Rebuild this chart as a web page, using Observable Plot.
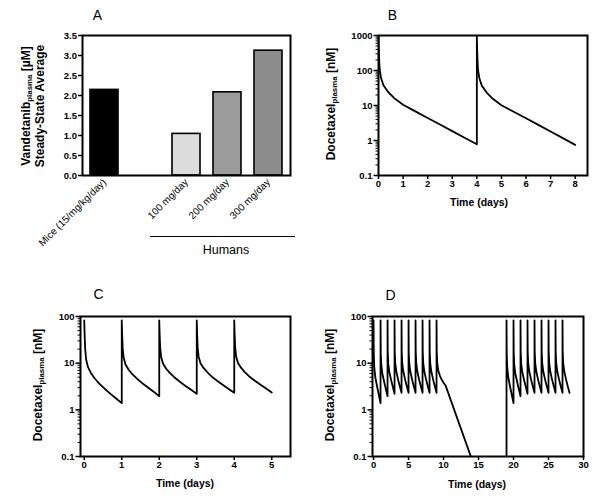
<!DOCTYPE html>
<html><head><meta charset="utf-8">
<script src="https://cdn.jsdelivr.net/npm/d3@7"></script>
<script src="https://cdn.jsdelivr.net/npm/@observablehq/plot@0.6"></script>
<style>
body{margin:0;background:#fff;}
#root{position:relative;width:600px;height:504px;background:#fff;font-family:"Liberation Sans",Arial,sans-serif;overflow:hidden;color:#000}
#root svg{overflow:visible}
.lab{position:absolute;white-space:nowrap;line-height:1;color:#000}
.ylab{transform:translate(-50%,-50%) rotate(-90deg);font-weight:bold;font-size:12px}
.xlab{transform:translate(-50%,-50%);font-weight:bold;font-size:10.5px}
.ttl{transform:translate(-50%,-50%);font-size:14px}
.sub{font-size:0.66em;position:relative;top:0.3em}
#pa [aria-label="x-axis tick label"]{font-weight:normal}
</style></head><body><div id="root"></div>
<script>
// ---------- Panel A data ----------
const aCategories = ["Mice (15/mg/kg/day)", " ", "100 mg/day", "200 mg/day", "300 mg/day"];
const aBarCategories = ["Mice (15/mg/kg/day)", "100 mg/day", "200 mg/day", "300 mg/day"];
const aValues = [2.14, 1.04, 2.08, 3.12];
const aYTicks = [0, 0.5, 1, 1.5, 2, 2.5, 3, 3.5];

// ---------- Log axis ticks ----------
const logMajor = [0.1, 1, 10, 100, 1000];
const logMinor = [0.2,0.3,0.4,0.5,0.6,0.7,0.8,0.9, 2,3,4,5,6,7,8,9, 20,30,40,50,60,70,80,90, 200,300,400,500,600,700,800,900];
const bXTicks = [0,1,2,3,4,5,6,7,8];
const cXTicks = [0,1,2,3,4,5];
const dXTicks = [0,5,10,15,20,25,30];

// ---------- Panel B: [time (days), concentration nM] ----------
const bCurve = [
  [0,1000],[0.01,450],[0.03,180],[0.05,105],[0.1,62],[0.2,38],[0.4,24],[0.65,16],[1,10.5],[1.5,6.8],[2,4.4],[2.5,2.85],[3,1.85],[3.5,1.2],[4,0.78],
  [4,950],[4.01,440],[4.03,175],[4.05,102],[4.1,61],[4.2,37],[4.4,23.5],[4.65,15.5],[5,10.2],[5.5,6.6],[6,4.3],[6.5,2.8],[7,1.8],[7.5,1.17],[8,0.75]
];

// ---------- Panel C ----------
const cCurve = [
  [0,82],[0.01,40],[0.025,20],[0.05,12],[0.1,8.2],[0.18,6.1],[0.28,4.7],[0.4,3.65],[0.55,2.8],[0.7,2.2],[0.85,1.75],[1,1.39],
  [1,82],[1.01,41],[1.025,21],[1.05,13.2],[1.1,9.4],[1.18,7.3],[1.28,5.8],[1.4,4.7],[1.55,3.7],[1.7,3.0],[1.85,2.45],[2,1.96],
  [2,82],[2.01,41],[2.025,21.5],[2.05,13.6],[2.1,9.8],[2.18,7.7],[2.28,6.2],[2.4,5.0],[2.55,4.0],[2.7,3.25],[2.85,2.7],[3,2.2],
  [3,82],[3.01,41],[3.025,21.5],[3.05,13.8],[3.1,10],[3.18,7.9],[3.28,6.4],[3.4,5.15],[3.55,4.15],[3.7,3.4],[3.85,2.8],[4,2.32],
  [4,82],[4.01,41],[4.025,21.5],[4.05,13.9],[4.1,10.1],[4.18,8.0],[4.28,6.45],[4.4,5.2],[4.55,4.2],[4.7,3.45],[4.85,2.85],[5,2.36]
];

// ---------- Panel D ----------
const dPhase1 = [
  [0,82],[0.03,16],[0.1,8.2],[0.25,5],[0.5,3.2],[0.75,2.1],[1,1.39],
  [1,82],[1.03,17],[1.1,9.4],[1.25,6.1],[1.5,4.1],[1.75,2.8],[2,1.96],
  [2,82],[2.03,17.5],[2.1,9.8],[2.25,6.5],[2.5,4.4],[2.75,3.1],[3,2.2],
  [3,82],[3.03,17.5],[3.1,10],[3.25,6.7],[3.5,4.5],[3.75,3.2],[4,2.32],
  [4,82],[4.03,17.5],[4.1,10],[4.25,6.7],[4.5,4.5],[4.75,3.2],[5,2.32],
  [5,82],[5.03,17.5],[5.1,10],[5.25,6.7],[5.5,4.5],[5.75,3.2],[6,2.32],
  [6,82],[6.03,17.5],[6.1,10],[6.25,6.7],[6.5,4.5],[6.75,3.2],[7,2.32],
  [7,82],[7.03,17.5],[7.1,10],[7.25,6.7],[7.5,4.5],[7.75,3.2],[8,2.32],
  [8,82],[8.03,17.5],[8.1,10],[8.25,6.7],[8.5,4.5],[8.75,3.2],[9,2.32],
  [9,82],[9.03,17.5],[9.1,10],[9.25,7],[9.5,5.3],[9.75,4.4],[10,3.8],[10.3,3.3],[13.9,0.1]
];
const dPhase2 = [
  [19,0.1],
  [19,82],[19.03,16],[19.1,8.2],[19.25,5],[19.5,3.2],[19.75,2.1],[20,1.39],
  [20,82],[20.03,17],[20.1,9.4],[20.25,6.1],[20.5,4.1],[20.75,2.8],[21,1.96],
  [21,82],[21.03,17.5],[21.1,9.8],[21.25,6.5],[21.5,4.4],[21.75,3.1],[22,2.2],
  [22,82],[22.03,17.5],[22.1,10],[22.25,6.7],[22.5,4.5],[22.75,3.2],[23,2.32],
  [23,82],[23.03,17.5],[23.1,10],[23.25,6.7],[23.5,4.5],[23.75,3.2],[24,2.32],
  [24,82],[24.03,17.5],[24.1,10],[24.25,6.7],[24.5,4.5],[24.75,3.2],[25,2.32],
  [25,82],[25.03,17.5],[25.1,10],[25.25,6.7],[25.5,4.5],[25.75,3.2],[26,2.32],
  [26,82],[26.03,17.5],[26.1,10],[26.25,6.7],[26.5,4.5],[26.75,3.2],[27,2.32],
  [27,82],[27.03,17.5],[27.1,10],[27.25,6.7],[27.5,4.5],[27.75,3.2],[28,2.32]
];

// ---------- rendering ----------
const root = document.getElementById("root");
const baseStyle = {fontFamily: '"Liberation Sans", Arial, sans-serif', fontSize: "9.5px", fontWeight: "bold", color: "black", background: "transparent", overflow: "visible"};

function place(el, left, top, id) {
  const wrap = document.createElement("div");
  wrap.style.position = "absolute"; wrap.style.left = left + "px"; wrap.style.top = top + "px";
  if (id) wrap.id = id;
  wrap.appendChild(el); root.appendChild(wrap);
}
function label(html, cls, x, y, size) {
  const d = document.createElement("div");
  d.className = "lab " + cls; d.innerHTML = html;
  d.style.left = x + "px"; d.style.top = y + "px";
  if (size) d.style.fontSize = size;
  root.appendChild(d);
}
const X = d => d[0], Y = d => d[1];
const lineOpts = {x: X, y: Y, stroke: "black", strokeWidth: 1.8, strokeLinejoin: "round", clip: true};

function logAxes(domainMax) {
  return [
    Plot.axisY(logMinor.filter(v => v < domainMax), {tickSize: 2.5, tickFormat: () => "", strokeWidth: 1, label: null}),
    Plot.axisY(logMajor.filter(v => v <= domainMax), {tickSize: 4.5, tickPadding: 1.5, tickFormat: d => String(d), strokeWidth: 1.5, label: null})
  ];
}

// Panel A
const aData = aBarCategories.map((c, i) => ({group: c, value: aValues[i]}));
place(Plot.plot({
  width: 300, height: 252, marginLeft: 82, marginRight: 10, marginTop: 35, marginBottom: 77,
  style: baseStyle,
  x: {domain: aCategories, paddingInner: 0.32, paddingOuter: 0.16, axis: null},
  y: {domain: [0, 3.5], axis: null},
  color: {domain: aBarCategories, range: ["#000000", "#dcdcdc", "#9b9b9b", "#8c8c8c"]},
  marks: [
    Plot.barY(aData, {x: "group", y: "value", fill: "group", stroke: "black", strokeWidth: 1.6}),
    Plot.axisY(aYTicks, {tickSize: 4, tickPadding: 1.5, tickFormat: d3.format(".1f"), strokeWidth: 1.5, label: null}),
    Plot.axisX(aBarCategories, {tickSize: 0, tickPadding: 5, tickRotate: -45, label: null, fontSize: 10, fontWeight: "normal"}),
    Plot.frame({stroke: "black", strokeWidth: 2})
  ]
}), 0, 0, "pa");

// Panel B
place(Plot.plot({
  width: 300, height: 252, marginLeft: 78, marginRight: 13, marginTop: 35, marginBottom: 77,
  style: baseStyle,
  x: {domain: [0, 8.5], axis: null},
  y: {type: "log", domain: [0.1, 1000], axis: null},
  marks: [
    Plot.line(bCurve, lineOpts),
    ...logAxes(1000),
    Plot.axisX(bXTicks, {tickSize: 4, tickPadding: 1, strokeWidth: 1.5, label: null}),
    Plot.frame({stroke: "black", strokeWidth: 2})
  ]
}), 300, 0);

// Panel C
place(Plot.plot({
  width: 300, height: 252, marginLeft: 80, marginRight: 10, marginTop: 64, marginBottom: 48,
  style: baseStyle,
  x: {domain: [-0.1, 5.5], axis: null},
  y: {type: "log", domain: [0.1, 100], axis: null},
  marks: [
    Plot.line(cCurve, lineOpts),
    ...logAxes(100),
    Plot.axisX(cXTicks, {tickSize: 4, tickPadding: 1, strokeWidth: 1.5, label: null}),
    Plot.frame({stroke: "black", strokeWidth: 2})
  ]
}), 0, 252);

// Panel D
place(Plot.plot({
  width: 300, height: 252, marginLeft: 72, marginRight: 17, marginTop: 64, marginBottom: 48,
  style: baseStyle,
  x: {domain: [-0.15, 30], axis: null},
  y: {type: "log", domain: [0.1, 100], axis: null},
  marks: [
    Plot.line(dPhase1, lineOpts),
    Plot.line(dPhase2, lineOpts),
    ...logAxes(100),
    Plot.axisX(dXTicks, {tickSize: 4, tickPadding: 1, strokeWidth: 1.5, label: null}),
    Plot.frame({stroke: "black", strokeWidth: 2})
  ]
}), 300, 252);

// Titles and axis labels
label("A", "ttl", 97.5, 15);
label("B", "ttl", 392.5, 15);
label("C", "ttl", 98.5, 294);
label("D", "ttl", 390.5, 295);

const docLabel = 'Docetaxel<span class="sub">plasma</span> [nM]';
label('Vandetanib<span class="sub">plasma</span> [µM]', "ylab", 26, 106);
label("Steady-State Average", "ylab", 40, 106);
label(docLabel, "ylab", 331, 104);
label(docLabel, "ylab", 38, 385);
label(docLabel, "ylab", 330, 385);

label("Time (days)", "xlab", 479, 202);
label("Time (days)", "xlab", 185, 483);
label("Time (days)", "xlab", 477, 484);

// Humans bracket
const hl = document.createElement("div");
hl.style.cssText = "position:absolute;left:150px;top:236px;width:145px;height:0;border-top:1.8px solid #000";
root.appendChild(hl);
label("Humans", "ttl", 226, 250, "12.5px");
</script>
</body></html>
